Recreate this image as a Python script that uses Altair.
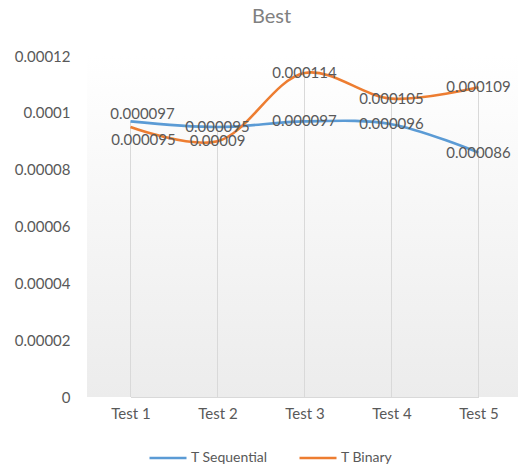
import altair as alt
import pandas as pd

# Run times per test for the two search strategies
tests = ["Test 1", "Test 2", "Test 3", "Test 4", "Test 5"]
t_sequential = [0.000097, 0.000095, 0.000097, 0.000096, 0.000086]
t_binary = [0.000095, 0.00009, 0.000114, 0.000105, 0.000109]
series_names = ["T Sequential", "T Binary"]
series_colors = ["#5B9BD5", "#ED7D31"]
y_ticks = [0, 0.00002, 0.00004, 0.00006, 0.00008, 0.0001, 0.00012]

rows = []
for name, vals in zip(series_names, [t_sequential, t_binary]):
    for t, v in zip(tests, vals):
        rows.append({"test": t, "series": name, "value": v})
df = pd.DataFrame(rows)

drops = pd.DataFrame({"test": tests,
                      "top": [max(a, b) for a, b in zip(t_sequential, t_binary)]})

FONT = "Lato"
GRAY = "#595959"
W, H = 431, 341

x_enc = alt.X("test:N", sort=tests,
              scale=alt.Scale(type="point", range=[43.5, 391.5], padding=0),
              axis=alt.Axis(title=None, labelAngle=0, ticks=False, grid=False,
                            domainColor="#d9d9d9", domainWidth=1,
                            labelPadding=9, labelFontSize=15,
                            labelColor=GRAY, labelFont=FONT))
y_scale = alt.Scale(domain=[0, 0.00012], nice=False)

# shaded plot area, white at the top fading to light gray
background = alt.Chart(pd.DataFrame({"a": [0]})).mark_rect(
    fill={"gradient": "linear", "x1": 0, "y1": 0, "x2": 0, "y2": 1,
          "stops": [{"offset": 0, "color": "#ffffff"},
                    {"offset": 1, "color": "#ececec"}]}
).encode(x=alt.value(0), x2=alt.value(W), y=alt.value(0), y2=alt.value(H))

# drop lines from the highest point of each test down to the axis
drop_lines = alt.Chart(drops).mark_rule(color="#d9d9d9", strokeWidth=1).encode(
    x=x_enc,
    y=alt.Y("top:Q", scale=y_scale),
    y2=alt.datum(0),
)

lines = alt.Chart(df).mark_line(interpolate="catmull-rom", strokeWidth=2.6).encode(
    x=x_enc,
    y=alt.Y("value:Q", scale=y_scale,
            axis=alt.Axis(title=None, values=y_ticks, ticks=False, domain=False,
                          grid=False, labelPadding=17, labelFontSize=15,
                          labelColor=GRAY, labelFont=FONT,
                          labelExpr="format(datum.value, '.5~f')")),
    color=alt.Color("series:N", sort=series_names,
                    scale=alt.Scale(domain=series_names, range=series_colors),
                    legend=alt.Legend(title=None, orient="none", direction="horizontal",
                                      legendX=61, legendY=382, padding=0,
                                      symbolType="stroke", symbolSize=1369,
                                      symbolStrokeWidth=2.6, labelOffset=3,
                                      columnPadding=26, labelFontSize=14,
                                      labelColor=GRAY, labelFont=FONT)),
    detail="series:N",
)


def value_labels(data, dx=0, dy=0):
    return alt.Chart(data).transform_calculate(
        label="format(datum.value, '.6~f')"
    ).mark_text(fontSize=15, font=FONT, color=GRAY, baseline="middle",
                align="center", dx=dx, dy=dy).encode(
        x=x_enc,
        y=alt.Y("value:Q", scale=y_scale),
        text="label:N",
    )


# Test 1 labels are nudged apart so the two values stay readable
rest = df[df["test"] != "Test 1"]
first_seq = df[(df["test"] == "Test 1") & (df["series"] == "T Sequential")]
first_bin = df[(df["test"] == "Test 1") & (df["series"] == "T Binary")]

chart = alt.layer(
    background, drop_lines, lines,
    value_labels(rest),
    value_labels(first_seq, dx=12, dy=-7),
    value_labels(first_bin, dx=13, dy=13),
).properties(
    width=W, height=H,
    title=alt.TitleParams("Best", fontSize=20, font=FONT, color="#808080",
                          fontWeight="normal", anchor="middle", frame="group",
                          dx=-31, offset=22),
    autosize=alt.AutoSizeParams(type="none"),
    padding={"left": 87, "top": 56, "right": 0, "bottom": 71},
).configure_view(stroke=None)

chart.save("out.html", embed_options={"renderer": "svg", "actions": False})
